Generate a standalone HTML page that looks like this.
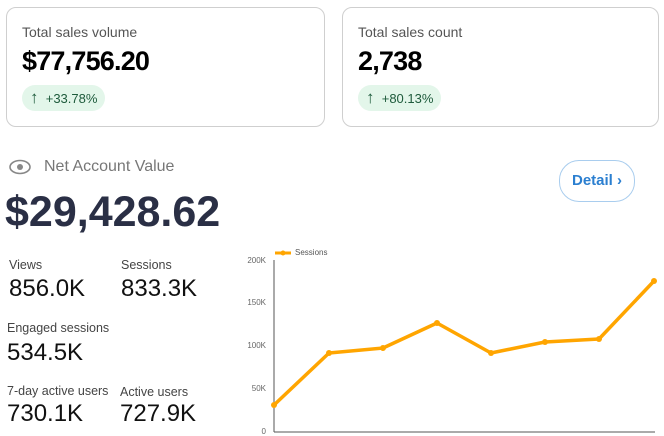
<!DOCTYPE html>
<html><head><meta charset="utf-8"><style>
body{margin:0;width:664px;height:435px;background:#fff;position:relative;overflow:hidden;font-family:"Liberation Sans",sans-serif}
.a{position:absolute;white-space:nowrap}
.card{position:absolute;top:7px;height:120px;border:1px solid #cfcfcf;border-radius:10px;box-sizing:border-box}
.t{font-size:14px;color:#555}
.big{font-size:27px;font-weight:bold;color:#000;letter-spacing:-0.8px}
.pill{background:#e3f6ea;color:#1e5b3c;font-size:13px;border-radius:13px;height:26px;line-height:26px;padding:0 8px}
.l{font-size:12.5px;color:#444}
.v{font-size:24px;color:#111}
.yt{font-size:8px;color:#666;text-align:right;width:40px}
</style></head><body>
<div class="card" style="left:6px;width:319px"></div>
<div class="card" style="left:342px;width:317px"></div>
<div class="a t" style="left:22px;top:24px">Total sales volume</div>
<div class="a big" style="left:22px;top:46px">$77,756.20</div>
<div class="a pill" style="left:22px;top:85px"><span style="font-size:17px">↑</span>&nbsp; +33.78%</div>
<div class="a t" style="left:358px;top:24px">Total sales count</div>
<div class="a big" style="left:358px;top:46px">2,738</div>
<div class="a pill" style="left:358px;top:85px"><span style="font-size:17px">↑</span>&nbsp; +80.13%</div>

<svg class="a" style="left:8px;top:158px" width="24" height="18"><ellipse cx="12" cy="9" rx="10" ry="6.5" fill="none" stroke="#888" stroke-width="1.6"/><circle cx="12" cy="9" r="3" fill="#888"/></svg>
<div class="a" style="left:44px;top:158px;font-size:16px;color:#777">Net Account Value</div>
<div class="a" style="left:5px;top:188px;font-size:43px;font-weight:bold;color:#2a2f45;letter-spacing:0px">$29,428.62</div>
<div class="a" style="left:559px;top:160px;width:76px;height:42px;border:1.5px solid #a9cdee;border-radius:20px;box-sizing:border-box;color:#2b7fd0;font-weight:bold;font-size:15px;line-height:40px;text-align:center">Detail ›</div>

<div class="a l" style="left:9px;top:258px">Views</div>
<div class="a v" style="left:9px;top:275px">856.0K</div>
<div class="a l" style="left:121px;top:258px">Sessions</div>
<div class="a v" style="left:121px;top:275px">833.3K</div>
<div class="a l" style="left:7px;top:321px">Engaged sessions</div>
<div class="a v" style="left:7px;top:339px">534.5K</div>
<div class="a l" style="left:7px;top:384px">7-day active users</div>
<div class="a v" style="left:7px;top:400px">730.1K</div>
<div class="a l" style="left:120px;top:385px">Active users</div>
<div class="a v" style="left:120px;top:400px">727.9K</div>

<div class="a yt" style="left:226px;top:256px">200K</div>
<div class="a yt" style="left:226px;top:298px">150K</div>
<div class="a yt" style="left:226px;top:341px">100K</div>
<div class="a yt" style="left:226px;top:384px">50K</div>
<div class="a yt" style="left:226px;top:427px">0</div>
<div class="a" style="left:295px;top:248px;font-size:8px;color:#555">Sessions</div>
<svg class="a" style="left:0;top:0" width="664" height="435">
<line x1="275" y1="253" x2="291" y2="253" stroke="#ffa500" stroke-width="3"/><circle cx="283" cy="253" r="2.5" fill="#ffa500"/>
<line x1="274" y1="260" x2="274" y2="432" stroke="#555" stroke-width="1"/>
<line x1="274" y1="432" x2="655" y2="432" stroke="#555" stroke-width="1"/>
<polyline points="274,405 329,353 383,348 437,323 491,353 545,342 599,339 654,281" fill="none" stroke="#ffa500" stroke-width="3.5" stroke-linejoin="round"/>
<g fill="#ffa500"><circle cx="274" cy="405" r="3"/><circle cx="329" cy="353" r="3"/><circle cx="383" cy="348" r="3"/><circle cx="437" cy="323" r="3"/><circle cx="491" cy="353" r="3"/><circle cx="545" cy="342" r="3"/><circle cx="599" cy="339" r="3"/><circle cx="654" cy="281" r="3"/></g>
</svg>
</body></html>
